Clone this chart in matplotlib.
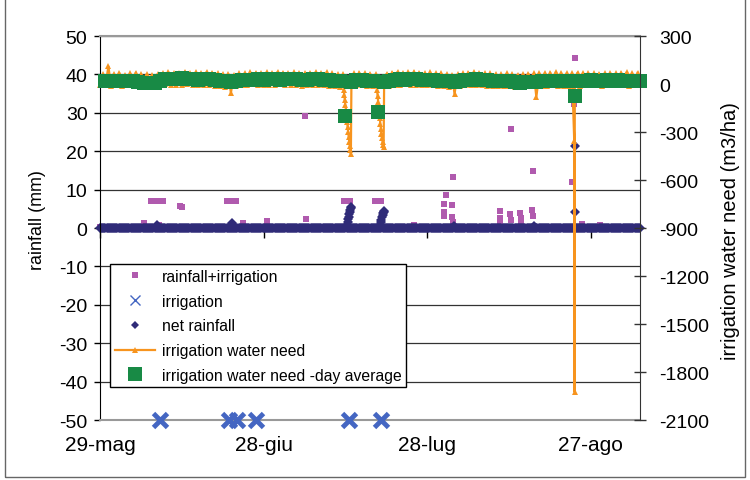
import numpy as np
import matplotlib.pyplot as plt
from matplotlib.lines import Line2D
from matplotlib.patches import Rectangle

plt.rcParams['font.family'] = ['Liberation Sans', 'DejaVu Sans']
plt.rcParams['axes.unicode_minus'] = False

# x axis: days since 29 May
tick_days = [0, 30, 60, 90]
tick_labels = ['29-mag', '28-giu', '28-lug', '27-ago']

# rainfall + irrigation (mm)
purple_t = [0.0, 8.1, 9.3, 9.9, 10.5, 11.1, 11.6, 10.8, 14.6, 15.0,
            23.2, 23.8, 24.4, 25.0, 26.2, 30.7, 37.6, 37.8, 44.7, 45.3,
            45.9, 50.5, 51.0, 51.6, 57.5, 63.0, 63.0, 63.1, 63.5, 64.6,
            64.6, 64.7, 64.8, 73.3, 73.3, 73.4, 75.2, 75.3, 75.4, 77.0,
            77.1, 77.2, 79.2, 79.3, 79.4, 86.5, 86.9, 87.0, 88.4, 91.7]
purple_v = [0.2, 1.3, 7.0, 7.0, 7.0, 7.0, 7.0, 0.8, 5.7, 5.5,
            7.0, 7.0, 7.0, 7.0, 1.3, 1.8, 29.2, 2.3, 7.0, 7.0,
            7.0, 7.0, 7.0, 7.0, 0.9, 6.3, 4.3, 3.2, 8.6, 6.0,
            3.0, 1.7, 13.4, 4.5, 2.5, 1.3, 3.7, 2.2, 25.8, 4.0,
            2.5, 1.2, 4.6, 3.2, 14.8, 12.0, 32.3, 44.3, 1.0, 0.8]

# irrigation events (drawn on the bottom of the chart)
irr_t = [11.0, 23.6, 25.1, 28.6, 45.6, 51.5]
irr_v = [-50, -50, -50, -50, -50, -50]

# net rainfall (mm): zero everywhere except these readings
net_t = [10.4, 24.2, 45.2, 45.3, 45.4, 45.5, 45.6, 45.7, 45.8, 45.9,
         46.0, 46.1, 51.3, 51.4, 51.5, 51.6, 51.7, 51.8, 51.9, 52.0,
         52.1, 64.9, 79.5, 87.0, 87.05]
net_v = [0.8, 1.3, 0.3, 0.9, 1.6, 2.3, 3.0, 3.6, 4.2, 4.7,
         5.2, 5.5, 0.3, 0.9, 1.5, 2.2, 2.8, 3.4, 3.9, 4.3,
         4.5, 0.6, 0.5, 21.4, 4.2]

nan = np.nan
# irrigation water need (m3/ha): daytime peaks and night values, days 0..98
orange_peak = [60, 110, 64, 70, 58, 66, 72, 62, 60, 55,
               62, 68, 75, 70, 72, 78, 66, 74, 70, 76,
               72, 68, 60, 62, 58, 66, 70, 74, 72, 68,
               74, 70, 76, 72, 68, 74, 70, 66, 72, 75,
               70, 74, 68, 62, 60, nan, 66, 72, 70, 64,
               62, nan, 64, 72, 76, 70, 74, 78, 72, 70,
               74, 68, 66, 62, 58, 60, 68, 72, 76, 70,
               68, 66, 64, 62, 66, 60, 58, 62, 64, 66,
               68, 70, 72, 74, 70, 68, 66, 72, 70, 68,
               66, 64, 68, 70, 66, 72, 74, 68, 70]
orange_night = [-5, -8, -10, -6, -12, -8, -6, -14, -16, -18,
                -10, -4, -2, -6, -8, -4, -2, -6, -4, -7,
                -8, -10, -14, -16, -56, -12, -6, -4, -2, -6,
                -4, -7, -6, -2, -4, -6, -8, -10, -6, -4,
                -7, -8, -10, -14, -20, nan, nan, -6, -8, -12,
                -15, nan, nan, -10, -6, -4, -2, -4, -6, -7,
                -6, -8, -10, -14, -16, -62, -10, -6, -4, -6,
                -8, -10, -12, -14, -12, -15, -18, -16, -15, -14,
                -81, -12, -10, -8, -10, -12, -14, nan, -10, -8,
                -6, -8, -10, -6, -4, -8, -6, -10, -8]
dip_t = [44.7, 44.8, 44.9, 45.0, 45.1, 45.2, 45.3, 45.4, 45.5, 45.6,
         45.7, 45.8, 45.9, 46.0, 46.1,
         50.8, 50.9, 51.0, 51.1, 51.2, 51.3, 51.4, 51.5, 51.6, 51.7,
         51.8, 51.9, 52.0, 52.1,
         86.95, 87.0, 87.05]
dip_v = [-40, -70, -100, -130, -165, -200, -235, -270, -300, -330,
         -360, -385, -410, -437, 20,
         -40, -75, -110, -145, -180, -215, -250, -280, -310, -335,
         -360, -380, -394, 20,
         -356, -1925, 30]

# irrigation water need, daily average (m3/ha), days 1..99
green = [20, 18, 22, 19, 21, 17, 15, 8, 5, 6,
         20, 30, 34, 32, 35, 33, 30, 28, 32, 30,
         25, 20, 18, 15, 22, 24, 26, 28, 30, 28,
         30, 32, 28, 30, 33, 30, 28, 26, 30, 32,
         28, 25, 22, 18, -200, 15, 24, 26, 22, 18,
         -175, 15, 22, 26, 30, 28, 30, 32, 28, 26,
         24, 22, 18, 16, 10, 20, 25, 28, 30, 26,
         24, 22, 20, 18, 22, 15, 8, 10, 12, 14,
         16, 18, 20, 22, 20, 18, -75, 20, 22, 24,
         20, 22, 24, 20, 26, 22, 20, 18, 20]

purple = '#B05AAE'
blue = '#4466C2'
navy = '#2F2B78'
orange = '#F7941E'
green_c = '#188A45'

# build series
days = np.arange(len(orange_peak))
o_t = np.concatenate([days + 0.0, days + 0.55, dip_t])
o_v = np.concatenate([orange_night, orange_peak, dip_v]).astype(float)
keep = ~np.isnan(o_v)
o_t, o_v = o_t[keep], o_v[keep]
order = np.argsort(o_t)
o_t, o_v = o_t[order], o_v[order]

base_t = np.arange(0, 99.01, 0.2)
n_t = np.concatenate([base_t, net_t])
n_v = np.concatenate([np.zeros(len(base_t)), net_v])

g_t = np.arange(1, len(green) + 1)

fig = plt.figure(figsize=(7.5, 4.81), dpi=100)
ax = fig.add_axes([0.1333, 0.1247, 0.72, 0.7983])
ax2 = ax.twinx()

ax.plot(purple_t, purple_v, 's', color=purple, ms=5, mew=0, clip_on=False)
ax.plot(irr_t, irr_v, 'x', color=blue, ms=10, mew=3.5, clip_on=False, zorder=4)
ax.plot(n_t, n_v, 'D', color=navy, ms=5, mew=0, clip_on=False)

ax2.plot(o_t, o_v, '-^', color=orange, lw=1.6, ms=5, mew=0, clip_on=False)
ax2.plot(g_t, green, 's', color=green_c, ms=10, mew=0, clip_on=False)

ax.set_xlim(0, 99)
ax.set_ylim(-50, 50)
ax.set_yticks(range(-50, 51, 10))
ax2.set_ylim(-2100, 300)
ax2.set_yticks(range(-2100, 301, 300))

ax.set_xticks(tick_days)
ax.set_xticklabels(tick_labels)
ax.tick_params(axis='x', length=0, pad=11, labelsize=15)
ax.tick_params(axis='y', direction='out', length=4, width=1, pad=5, labelsize=14)
ax2.tick_params(axis='y', direction='inout', length=8, width=1, pad=10,
                labelsize=14, color='#333333')

# small tick marks hanging under the zero line
sec = ax.secondary_xaxis(0.5)
sec.set_alignment('bottom')
sec.set_xticks(tick_days)
sec.set_xticklabels([])
sec.tick_params(length=7, width=1, labelbottom=False, labeltop=False,
                direction='out', color='black')
for s in sec.spines.values():
    s.set_visible(False)

ax.yaxis.grid(True, color='#333333', lw=0.9)
ax.set_axisbelow(True)

for s in ['top', 'bottom']:
    ax.spines[s].set_color('#999999')
    ax.spines[s].set_linewidth(1.5)
ax.spines['left'].set_color('black')
ax.spines['right'].set_visible(False)
for s in ['top', 'bottom', 'left']:
    ax2.spines[s].set_visible(False)
ax2.spines['right'].set_color('#333333')

ax.set_ylabel('rainfall (mm)', fontsize=12.9)
ax.yaxis.set_label_coords(-0.1, 0.523)
ax2.set_ylabel('irrigation water need (m3/ha)', fontsize=14.5)
ax2.yaxis.set_label_coords(1.15, 0.495)

handles = [
    Line2D([], [], ls='none', marker='s', color=purple, ms=5, mew=0),
    Line2D([], [], ls='none', marker='x', color=blue, ms=7, mew=1),
    Line2D([], [], ls='none', marker='D', color=navy, ms=4, mew=0),
    Line2D([], [], color=orange, lw=1.6, marker='^', ms=5, mew=0),
    Line2D([], [], ls='none', marker='s', color=green_c, ms=10, mew=0),
]
labels = ['rainfall+irrigation', 'irrigation', 'net rainfall',
          'irrigation water need', 'irrigation water need -day average']
leg = ax2.legend(handles, labels, loc='upper left', bbox_to_anchor=(0.0185, 0.406),
                 borderaxespad=0, fancybox=False, edgecolor='black', framealpha=1,
                 fontsize=11.3, labelspacing=0.62, borderpad=0.3,
                 handlelength=2.6, handletextpad=0.4)
leg.get_frame().set_linewidth(1.0)

fig.patches.append(Rectangle((0.007, 0.006), 0.986, 1.2, transform=fig.transFigure,
                             fill=False, edgecolor='#666666', lw=1))

fig.savefig('out.png', dpi=100)
